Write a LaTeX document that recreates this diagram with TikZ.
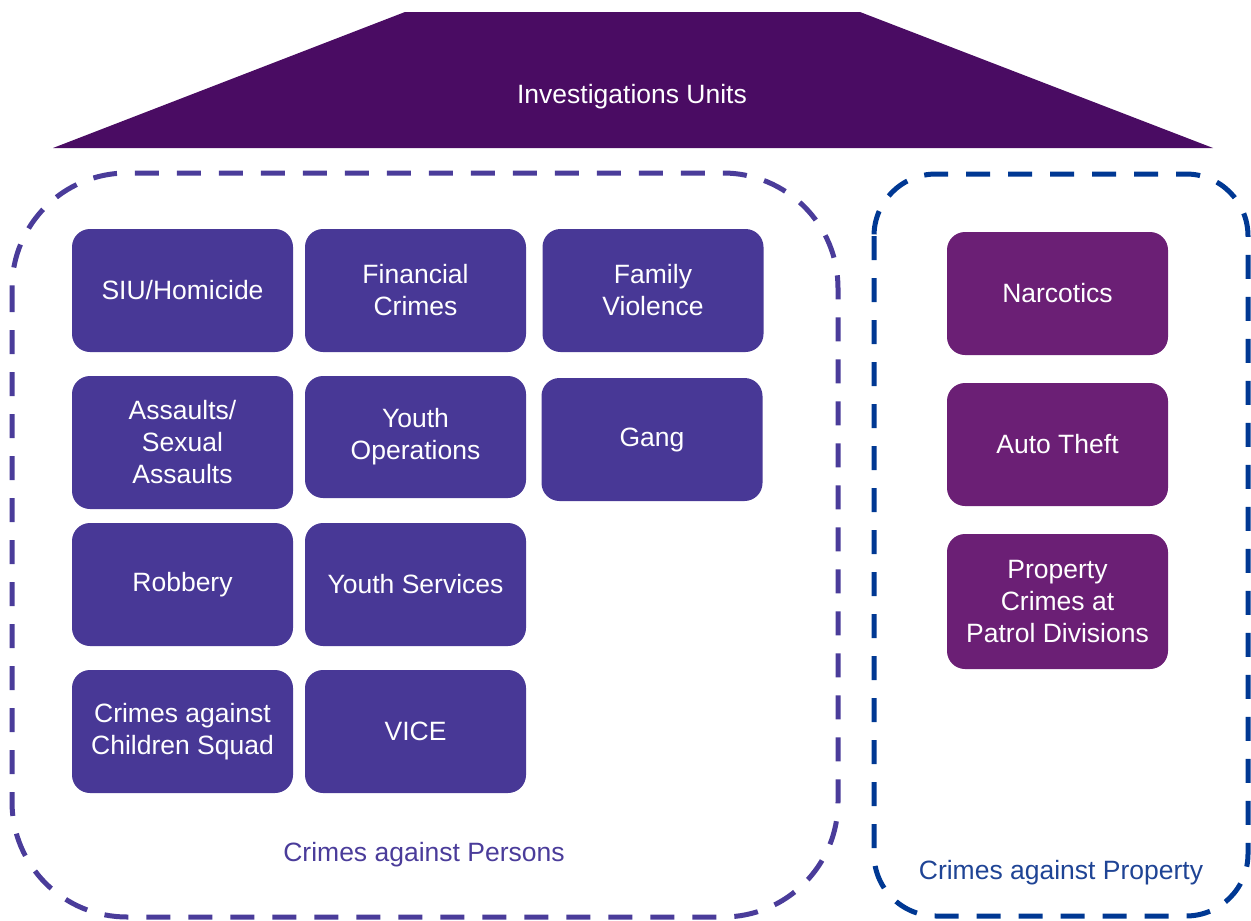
\documentclass[tikz,border=0pt]{standalone}
\usepackage{fontspec}
\setmainfont{Liberation Sans}
\definecolor{roofc}{HTML}{4A0C63}
\definecolor{unitc}{HTML}{483896}
\definecolor{propc}{HTML}{6B1F75}
\definecolor{persline}{HTML}{4A3C9A}
\definecolor{propline}{HTML}{003893}
\definecolor{proptext}{HTML}{1F4495}
\begin{document}
\begin{tikzpicture}[x=1pt,y=-1pt,
  unit/.style={fill=unitc,rounded corners=18pt,minimum width=221pt,minimum height=123pt,text=white,align=center,font=\fontsize{26.5}{32}\selectfont,inner sep=0pt},
  prop/.style={unit,fill=propc},
  group/.style={line width=5pt,dash pattern=on 24pt off 18pt,rounded corners=115pt},
  grouplabel/.style={font=\fontsize{26.5}{32}\selectfont}]
\useasboundingbox (0,0) rectangle (1251,921);
% roof
\fill[roofc] (405,12) -- (860,12) -- (1213,148) -- (53,148) -- cycle;
\node[text=white,font=\fontsize{26.5}{32}\selectfont] (roof) at (632,96.5) {Investigations Units};
% groups
\draw[group,persline] (12,173) rectangle (838,917);
\draw[group,propline,rounded corners=62pt] (874,174) rectangle (1248,916);
% units
\node[unit] (siu) at (182.5,290.5) {SIU/Homicide};
\node[unit] (fin) at (415.5,290.5) {Financial\\Crimes};
\node[unit] (fam) at (653,290.5) {Family\\Violence};
\node[unit,minimum height=133pt] (ass) at (182.5,442.5) {Assaults/\\Sexual\\Assaults};
\node[unit,minimum height=122pt] (yop) at (415.5,437) {Youth\\Operations};
\node[unit] (gang) at (652,439.5) {Gang};
\node[unit] (rob) at (182.5,584.5) {Robbery};
\node[unit] (ysv) at (415.5,584.5) {Youth Services};
\node[unit] (cac) at (182.5,731.5) {Crimes against\\Children Squad};
\node[unit] (vice) at (415.5,731.5) {VICE};
\node[prop] (narc) at (1057.5,293.5) {Narcotics};
\node[prop] (auto) at (1057.5,444.5) {Auto Theft};
\node[prop,minimum height=135pt] (pcpd) at (1057.5,601.5) {Property\\Crimes at\\Patrol Divisions};
% labels
\node[grouplabel,text=persline] (lpers) at (424,855) {Crimes against Persons};
\node[grouplabel,text=proptext] (lprop) at (1061,873) {Crimes against Property};
\end{tikzpicture}
\end{document}
